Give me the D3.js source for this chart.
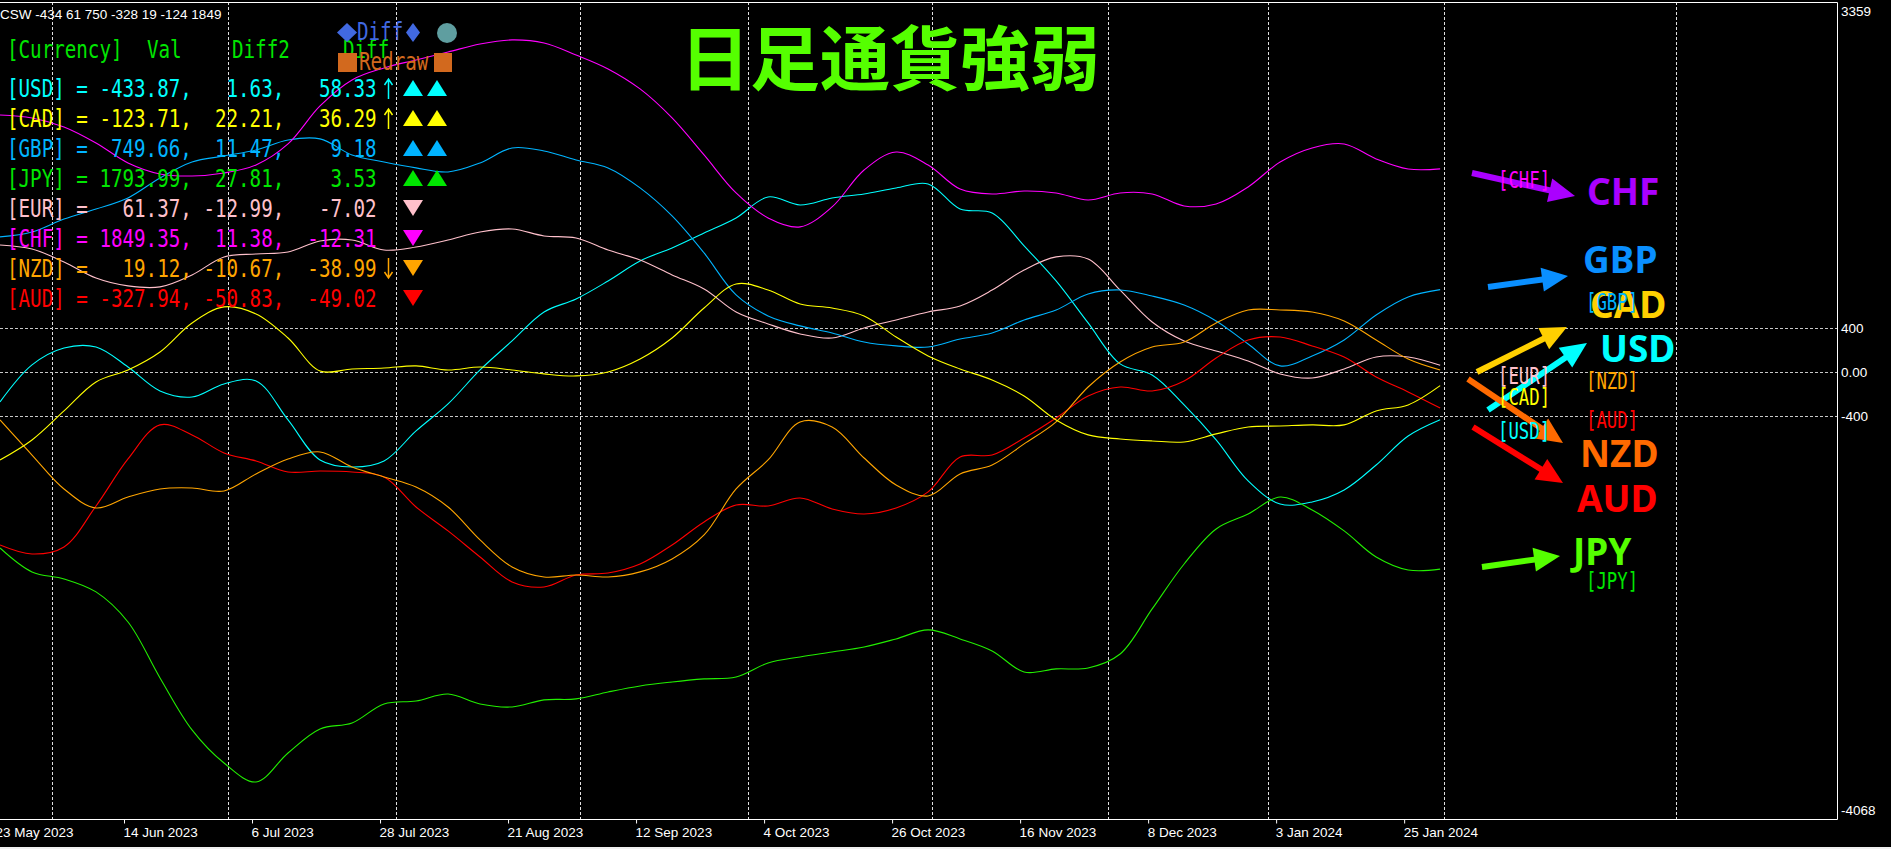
<!DOCTYPE html>
<html>
<head>
<meta charset="utf-8">
<script src="https://cdn.jsdelivr.net/npm/d3@7"></script>
<style>
html, body { margin: 0; padding: 0; background: #000; overflow: hidden; }
svg { display: block; }
</style>
</head>
<body>
<div id="chart"></div>
<script>
// currency strength lines, one point every 4 daily bars (bar 0 = 24 May 2023)
var usd = [-272, 65, 219, 228, 46, -172, -227, -108, -81, -436, -800, -864, -809, -536, -290, 19, 283, 547, 665, 829, 1011, 1130, 1266, 1403, 1594, 1521, 1584, 1621, 1675, 1712, 1484, 1448, 1148, 829, 447, 74, -26, -299, -618, -991, -1201, -1182, -1073, -846, -582, -434]
var eur = [1157, 1120, 1002, 856, 784, 775, 884, 1048, 1075, 1093, 1193, 1202, 1111, 1138, 1202, 1275, 1302, 1239, 1220, 1111, 1020, 884, 756, 547, 438, 347, 310, 401, 474, 547, 602, 746, 929, 1048, 1029, 746, 456, 283, 192, 101, -17, -54, 28, 137, 137, 61]
var gbp = [1230, 1275, 1393, 1484, 1585, 1767, 1912, 1967, 2021, 2112, 2122, 1976, 1912, 1858, 1821, 1903, 2040, 2012, 1930, 1858, 1676, 1421, 1084, 702, 511, 420, 356, 274, 238, 228, 301, 356, 474, 565, 711, 747, 692, 610, 465, 256, 56, 147, 292, 520, 684, 750]
var jpy = [-1601, -1819, -1883, -2001, -2275, -2784, -3257, -3558, -3731, -3467, -3248, -3194, -3021, -2994, -2930, -3021, -3048, -2984, -2975, -2912, -2857, -2821, -2793, -2775, -2648, -2593, -2548, -2502, -2429, -2347, -2429, -2538, -2730, -2702, -2693, -2566, -2156, -1747, -1428, -1292, -1137, -1255, -1446, -1683, -1801, -1794]
var chf = [2340, 2313, 2231, 2085, 1903, 1803, 1785, 1812, 1885, 2076, 2422, 2659, 2768, 2841, 2913, 2986, 3023, 2995, 2886, 2759, 2577, 2313, 1976, 1630, 1403, 1321, 1503, 1839, 2003, 1885, 1666, 1621, 1648, 1630, 1566, 1630, 1621, 1512, 1530, 1685, 1912, 2040, 2076, 1940, 1848, 1849]
var aud = [-1574, -1656, -1592, -1219, -791, -481, -572, -736, -809, -909, -900, -909, -955, -1228, -1446, -1683, -1910, -1956, -1847, -1829, -1747, -1574, -1364, -1210, -1219, -1146, -1246, -1292, -1237, -1091, -773, -755, -600, -418, -218, -136, -172, -81, 128, 292, 319, 238, 137, -45, -181, -328]
var nzd = [-436, -755, -1064, -1237, -1137, -1064, -1055, -1082, -927, -791, -727, -864, -955, -1046, -1228, -1528, -1774, -1865, -1847, -1865, -1819, -1701, -1483, -1064, -800, -454, -500, -782, -1028, -1128, -927, -846, -654, -454, -136, 92, 228, 274, 447, 565, 565, 547, 465, 292, 119, 19]
var cad = [-800, -618, -354, -90, 19, 183, 447, 593, 529, 310, 10, 28, 37, 56, 19, 46, 19, -17, -35, 1, 119, 310, 583, 802, 747, 620, 583, 511, 319, 147, 28, -72, -218, -436, -572, -609, -627, -636, -563, -500, -491, -481, -481, -354, -299, -124]

var barStep = 4
var dateLabels = ["23 May 2023", "14 Jun 2023", "6 Jul 2023", "28 Jul 2023", "21 Aug 2023", "12 Sep 2023",
                  "4 Oct 2023", "26 Oct 2023", "16 Nov 2023", "8 Dec 2023", "3 Jan 2024", "25 Jan 2024"]
var monthBars = [6.5, 28.5, 49.5, 72.5, 93.5, 116.5, 138.5, 158.5, 180.5, 209.5]
var yTicks = [3359, 400, 0, -400, -4068]
var gridValues = [400, 0, -400]

// table in the top left corner
var tableNames = ["USD", "CAD", "GBP", "JPY", "EUR", "CHF", "NZD", "AUD"]
var tableVal = [-433.87, -123.71, 749.66, 1793.99, 61.37, 1849.35, 19.12, -327.94]
var tableDiff2 = [1.63, 22.21, 11.47, 27.81, -12.99, 11.38, -10.67, -50.83]
var tableDiff = [58.33, 36.29, 9.18, 3.53, -7.02, -12.31, -38.99, -49.02]
var tableArrow = ["up", "up", "", "", "", "", "down", ""]
var tableMarks = ["up2", "up2", "up2", "up2", "down", "down", "down", "down"]

var colors = {
    USD: "#00FFFF", EUR: "#FFC0CB", GBP: "#00B4FF", JPY: "#22EE00",
    CHF: "#FF00FF", AUD: "#FF0000", NZD: "#FFA500", CAD: "#FFFF00"
}

var svgSize = { width: 1891, height: 849 }
var plot = { left: 0, top: 2, right: 1837, bottom: 819 }

var svg = d3.select("#chart").append("svg")
    .attr("width", svgSize.width)
    .attr("height", svgSize.height)
    .style("background", "#000")

var xScale = d3.scaleLinear().domain([0, 229.6]).range([plot.left, plot.right])
var yScale = d3.scaleLinear().domain([-4068, 3359]).range([plot.bottom, plot.top + 1])

// grid
var grid = svg.append("g")
grid.selectAll("line.v").data(monthBars).enter().append("line")
    .attr("x1", d => Math.round(xScale(d)) + 0.5).attr("x2", d => Math.round(xScale(d)) + 0.5)
    .attr("y1", plot.top).attr("y2", plot.bottom)
    .attr("stroke", "#e0e0e0").attr("stroke-dasharray", "3,2")
grid.selectAll("line.h").data(gridValues).enter().append("line")
    .attr("x1", plot.left).attr("x2", plot.right)
    .attr("y1", d => Math.round(yScale(d)) + 0.5).attr("y2", d => Math.round(yScale(d)) + 0.5)
    .attr("stroke", "#c8c8c8").attr("stroke-dasharray", "3,2")

// frame
svg.append("path")
    .attr("d", `M${plot.left},${plot.top + 0.5}H${plot.right + 0.5}V${plot.bottom + 0.5}H${plot.left}`)
    .attr("fill", "none").attr("stroke", "#fff")

// x axis
var bottomAxis = d3.axisBottom(xScale)
    .tickValues(dateLabels.map((d, i) => -0.5 + 16 * i))
    .tickFormat((d, i) => dateLabels[i])
    .tickSize(4).tickSizeOuter(0)
var xAxis = svg.append("g").attr("transform", `translate(0, ${plot.bottom + 0.5})`).call(bottomAxis)
xAxis.select(".domain").remove()
xAxis.selectAll("line").attr("stroke", "#fff")
xAxis.selectAll("text").attr("fill", "#fff").attr("text-anchor", "start").attr("dx", "-1")
    .attr("y", 8).attr("dy", "0.71em")
    .style("font", "13.5px 'Liberation Sans', Arial, sans-serif")

// y axis on the right
var rightAxis = d3.axisRight(yScale).tickValues(yTicks).tickSize(0)
    .tickFormat(d => d === 0 ? "0.00" : d)
var yAxis = svg.append("g").attr("transform", `translate(${plot.right + 3}, 0)`).call(rightAxis)
yAxis.select(".domain").remove()
yAxis.selectAll("text").attr("fill", "#fff").attr("x", 1)
    .style("font", "13.5px 'Liberation Sans', Arial, sans-serif")
    .attr("dy", d => d === 3359 ? "0.95em" : d === -4068 ? "-0.3em" : "0.32em")

// lines
var series = [
    { name: "USD", values: usd }, { name: "EUR", values: eur }, { name: "GBP", values: gbp },
    { name: "CHF", values: chf }, { name: "JPY", values: jpy }, { name: "AUD", values: aud },
    { name: "NZD", values: nzd }, { name: "CAD", values: cad }
]
var line = d3.line()
    .x((d, i) => xScale(i * barStep))
    .y(d => yScale(d))
    .curve(d3.curveCatmullRom.alpha(0.5))
svg.append("g").selectAll("path").data(series).enter().append("path")
    .attr("d", s => line(s.values))
    .attr("fill", "none")
    .attr("stroke", s => colors[s.name])
    .attr("stroke-width", 1.1)

// header text
var cswText = "CSW " + ["USD", "EUR", "GBP", "AUD", "NZD", "CAD", "CHF"]
    .map(n => Math.round(tableVal[tableNames.indexOf(n)])).join(" ")
svg.append("text").attr("x", 0).attr("y", 19).attr("fill", "#fff")
    .style("font", "13.5px 'Liberation Sans', Arial, sans-serif")
    .text(cswText)

// monospace table
var mono = "'DejaVu Sans Mono', 'Liberation Mono', monospace"
function monoText(x, y, str, color, size, sy) {
    svg.append("g").attr("transform", `translate(${x}, ${y}) scale(1, ${sy})`)
        .append("text").attr("fill", color).style("font-family", mono).style("font-size", size + "px")
        .style("white-space", "pre")
        .text(str)
}
var pad = (v, n) => (v.toFixed(2)).padStart(n, " ")

monoText(7, 58, "[Currency]", "#00E600", 19.2, 1.25)
monoText(147, 58, "Val", "#00E600", 19.2, 1.25)
monoText(232, 58, "Diff2", "#00E600", 19.2, 1.25)
monoText(343, 58, "Diff", "#00E600", 19.2, 1.25)

var marks = svg.append("g")
tableNames.forEach((n, i) => {
    var c = n === "JPY" ? "#00E600" : colors[n]
    var str = "[" + n + "] = " + pad(tableVal[i], 7) + "," + pad(tableDiff2[i], 7) + "," + pad(tableDiff[i], 8)
    monoText(7, 97 + 30 * i, str, c, 19.2, 1.25)
    // thin trend arrow after the last number
    var top = 78 + 30 * i, bot = 99 + 30 * i, ax = 388.5
    if (tableArrow[i] === "up") {
        marks.append("path").attr("d", `M${ax},${top + 2}V${bot}M${ax - 4},${top + 7}L${ax},${top + 1}L${ax + 4},${top + 7}`)
            .attr("fill", "none").attr("stroke", c).attr("stroke-width", 1.5)
    } else if (tableArrow[i] === "down") {
        marks.append("path").attr("d", `M${ax},${top}V${bot - 2}M${ax - 4},${bot - 7}L${ax},${bot - 1}L${ax + 4},${bot - 7}`)
            .attr("fill", "none").attr("stroke", c).attr("stroke-width", 1.5)
    }
})

tableMarks.forEach((m, i) => {
    var base = 96 + 30 * i
    var c = tableNames[i] === "JPY" ? "#00E600" : colors[tableNames[i]]
    if (m === "up2") {
        [413, 437].forEach(cx => {
            marks.append("path").attr("d", `M${cx},${base - 16}L${cx + 10},${base}L${cx - 10},${base}Z`).attr("fill", c)
        })
    } else {
        var top = base - 16
        marks.append("path").attr("d", `M${403},${top}L${423},${top}L${413},${top + 16}Z`).attr("fill", c)
    }
})

// Diff / Redraw buttons
marks.append("path").attr("d", "M347,23L357,32.5L347,42L337,32.5Z").attr("fill", "#4169E1")
marks.append("path").attr("d", "M413,23L420,32.5L413,42L406,32.5Z").attr("fill", "#4169E1")
marks.append("circle").attr("cx", 447).attr("cy", 33).attr("r", 10).attr("fill", "#5F9EA0")
monoText(357, 40, "Diff", "#4169E1", 19.2, 1.25)
marks.append("rect").attr("x", 338).attr("y", 53).attr("width", 19).attr("height", 19).attr("fill", "#D2691E")
marks.append("rect").attr("x", 434).attr("y", 53).attr("width", 18).attr("height", 19).attr("fill", "#D2691E")
monoText(359, 70, "Redraw", "#D2691E", 19.2, 1.25)

// title
svg.append("text").attr("x", 680).attr("y", 85)
    .attr("fill", "#55FF00")
    .style("font-family", "'Noto Sans CJK JP', sans-serif")
    .style("font-weight", 700).style("font-size", "70px")
    .text("日足通貨強弱")

// right side annotations
var notes = [
    { label: "CHF", color: "#AA00FF", from: [1472, 173], to: [1575, 196], tx: 1587, ty: 205 },
    { label: "GBP", color: "#0A8FFF", from: [1488, 287], to: [1568, 276], tx: 1583, ty: 273 },
    { label: "CAD", color: "#FFD000", from: [1477, 372], to: [1567, 327], tx: 1590, ty: 318 },
    { label: "USD", color: "#00FFFF", from: [1488, 410], to: [1587, 343], tx: 1600, ty: 362 },
    { label: "NZD", color: "#FF6A00", from: [1468, 379], to: [1563, 443], tx: 1580, ty: 467 },
    { label: "AUD", color: "#FF0000", from: [1473, 427], to: [1563, 483], tx: 1577, ty: 512 },
    { label: "JPY", color: "#55FF00", from: [1482, 567], to: [1560, 556], tx: 1573, ty: 565 }
]
var tags = [
    { label: "CHF", x: 1498, y: 188 }, { label: "GBP", x: 1586, y: 310 },
    { label: "EUR", x: 1498, y: 384 }, { label: "CAD", x: 1498, y: 405 },
    { label: "NZD", x: 1586, y: 389 }, { label: "AUD", x: 1586, y: 428 },
    { label: "USD", x: 1498, y: 439 }, { label: "JPY", x: 1586, y: 589 }
]
var notesG = svg.append("g")
tags.forEach(t => monoText(t.x, t.y, "[" + t.label + "]", t.label === "JPY" ? "#00E600" : colors[t.label], 17.3, 1.3))

notes.forEach(n => {
    var dx = n.to[0] - n.from[0], dy = n.to[1] - n.from[1]
    var len = Math.sqrt(dx * dx + dy * dy)
    var ux = dx / len, uy = dy / len
    var headLen = 26, headW = 12
    var bx = n.to[0] - ux * headLen, by = n.to[1] - uy * headLen
    notesG.append("line")
        .attr("x1", n.from[0]).attr("y1", n.from[1]).attr("x2", bx + ux * 2).attr("y2", by + uy * 2)
        .attr("stroke", n.color).attr("stroke-width", 6)
    notesG.append("path")
        .attr("d", `M${n.to[0]},${n.to[1]}L${bx - uy * headW},${by + ux * headW}L${bx + uy * headW},${by - ux * headW}Z`)
        .attr("fill", n.color)
    notesG.append("text").attr("x", n.tx).attr("y", n.ty)
        .attr("fill", n.color)
        .style("font-family", "'Noto Sans', 'Open Sans', sans-serif")
        .style("font-weight", 700).style("font-size", "37px")
        .text(n.label)
})

// window edge strip
svg.append("rect").attr("x", 0).attr("y", 847).attr("width", svgSize.width).attr("height", 2).attr("fill", "#f0f0f0")
</script>
</body>
</html>
